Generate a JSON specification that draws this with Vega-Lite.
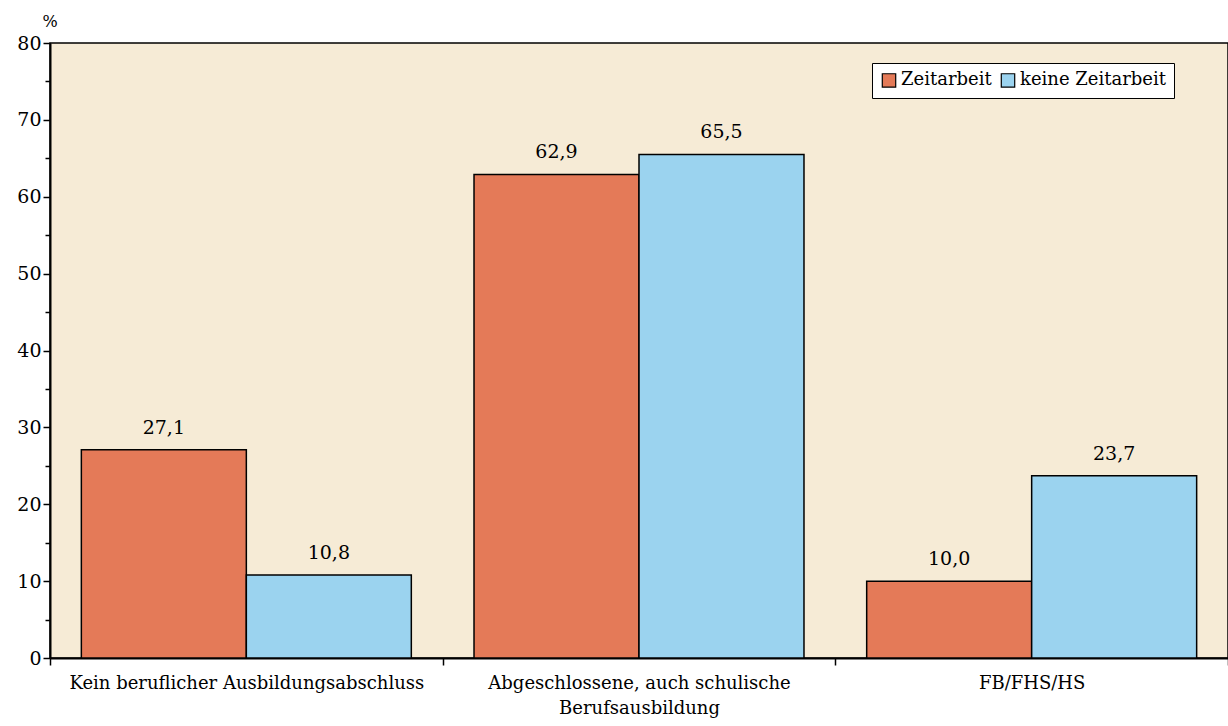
{
  "$schema": "https://vega.github.io/schema/vega-lite/v6.json",
  "width": 1178,
  "height": 615,
  "autosize": {"type": "none"},
  "padding": {"left": 50, "top": 43, "right": 0, "bottom": 68},
  "background": "white",
  "config": {
    "font": "DejaVu Serif",
    "view": {"fill": "#F6EBD6", "stroke": "black", "strokeWidth": 1.5},
    "locale": {"number": {"decimal": ",", "thousands": ".", "grouping": [3], "currency": ["", " €"]}}
  },
  "data": {
    "values": [
      {"abschluss": "Kein beruflicher Ausbildungsabschluss", "gruppe": "Zeitarbeit", "anteil": 27.1},
      {"abschluss": "Kein beruflicher Ausbildungsabschluss", "gruppe": "keine Zeitarbeit", "anteil": 10.8},
      {"abschluss": "Abgeschlossene, auch schulische Berufsausbildung", "gruppe": "Zeitarbeit", "anteil": 62.9},
      {"abschluss": "Abgeschlossene, auch schulische Berufsausbildung", "gruppe": "keine Zeitarbeit", "anteil": 65.5},
      {"abschluss": "FB/FHS/HS", "gruppe": "Zeitarbeit", "anteil": 10.0},
      {"abschluss": "FB/FHS/HS", "gruppe": "keine Zeitarbeit", "anteil": 23.7}
    ]
  },
  "encoding": {
    "x": {
      "field": "abschluss",
      "type": "nominal",
      "sort": null,
      "scale": {"paddingInner": 0, "paddingOuter": 0},
      "axis": {
        "title": null,
        "labelAngle": 0,
        "labelFont": "DejaVu Serif",
        "labelFontSize": 18,
        "labelColor": "black",
        "labelLimit": 0,
        "labelPadding": 9,
        "labelLineHeight": 25,
        "labelExpr": "datum.value == 'Abgeschlossene, auch schulische Berufsausbildung' ? ['Abgeschlossene, auch schulische', 'Berufsausbildung'] : datum.value",
        "tickBand": "extent",
        "tickSize": 7,
        "tickColor": "black",
        "tickWidth": 1.5,
        "domainColor": "black",
        "domainWidth": 2
      }
    },
    "xOffset": {
      "field": "gruppe",
      "type": "nominal",
      "sort": ["Zeitarbeit", "keine Zeitarbeit"],
      "scale": {"paddingInner": 0, "paddingOuter": 0.19}
    },
    "y": {
      "field": "anteil",
      "type": "quantitative",
      "scale": {"domain": [0, 80], "nice": false},
      "axis": {
        "values": [0, 5, 10, 15, 20, 25, 30, 35, 40, 45, 50, 55, 60, 65, 70, 75, 80],
        "labelExpr": "datum.value % 10 === 0 ? datum.label : ''",
        "labelFont": "DejaVu Serif",
        "labelFontSize": 19,
        "labelColor": "black",
        "labelPadding": 2,
        "grid": false,
        "tickColor": "black",
        "tickWidth": 1.5,
        "tickSize": {"condition": {"test": "datum.value % 10 !== 0", "value": 5}, "value": 7},
        "domainColor": "black",
        "domainWidth": 2,
        "title": "%",
        "titleFont": "DejaVu Serif",
        "titleFontSize": 16,
        "titleFontWeight": "normal",
        "titleColor": "black",
        "titleAngle": 0,
        "titleAlign": "left",
        "titleBaseline": "bottom",
        "titleX": -8,
        "titleY": -14
      }
    }
  },
  "layer": [
    {
      "mark": {"type": "bar", "stroke": "black", "strokeWidth": 1.5},
      "encoding": {
        "color": {
          "field": "gruppe",
          "type": "nominal",
          "sort": ["Zeitarbeit", "keine Zeitarbeit"],
          "scale": {"domain": ["Zeitarbeit", "keine Zeitarbeit"], "range": ["#E47A58", "#9BD3EF"]},
          "legend": {
            "title": null,
            "orient": "none",
            "legendX": 822,
            "legendY": 20,
            "direction": "horizontal",
            "symbolType": "square",
            "symbolSize": 180,
            "symbolStrokeColor": "black",
            "symbolStrokeWidth": 1.2,
            "labelFont": "DejaVu Serif",
            "labelFontSize": 18,
            "labelColor": "black",
            "labelOffset": 3,
            "columnPadding": 6,
            "padding": 8,
            "fillColor": "white",
            "strokeColor": "black"
          }
        }
      }
    },
    {
      "mark": {"type": "text", "baseline": "alphabetic", "dy": -16, "font": "DejaVu Serif", "fontSize": 19, "color": "black"},
      "encoding": {
        "text": {"field": "anteil", "type": "quantitative", "format": ".1f"}
      }
    }
  ]
}
